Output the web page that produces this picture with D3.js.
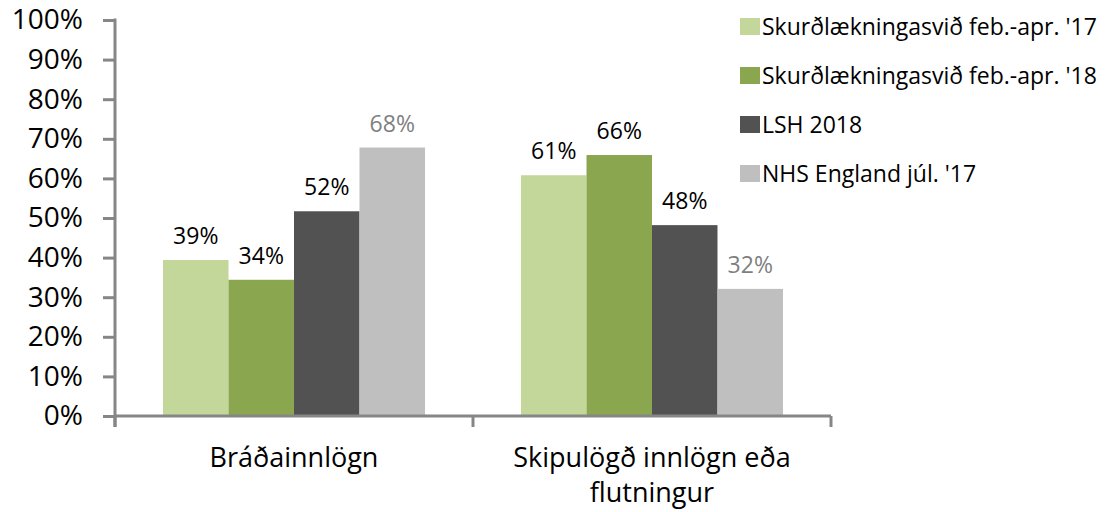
<!DOCTYPE html>
<html>
<head>
<meta charset="utf-8">
<script src="https://cdn.jsdelivr.net/npm/d3@7"></script>
<style>
  body { margin: 0; background: #fff; }
  text { font-family: "Open Sans", sans-serif; }
</style>
</head>
<body>
<div id="chart"></div>
<script>
// Data
var categories = ["Bráðainnlögn", "Skipulögð innlögn eða flutningur"];
var categoryLines = [["Bráðainnlögn"], ["Skipulögð innlögn eða", "flutningur"]];
var seriesNames = ["Skurðlækningasvið feb.-apr. '17", "Skurðlækningasvið feb.-apr. '18", "LSH 2018", "NHS England júl. '17"];
var skurd17 = [39.4, 60.8];
var skurd18 = [34.4, 65.9];
var lsh2018 = [51.7, 48.2];
var nhs17 = [67.8, 32.1];
var labels17 = ["39%", "61%"];
var labels18 = ["34%", "66%"];
var labelsLsh = ["52%", "48%"];
var labelsNhs = ["68%", "32%"];
var yTicks = [0, 10, 20, 30, 40, 50, 60, 70, 80, 90, 100];

var colors = ["#c4d79b", "#8aa64f", "#525252", "#bfbfbf"];
var labelColors = ["#000", "#000", "#000", "#7f7f7f"];

var seriesValues = [skurd17, skurd18, lsh2018, nhs17];
var seriesLabels = [labels17, labels18, labelsLsh, labelsNhs];

// Set width and height
var width = 1106,
    height = 512;

var svg = d3.select("#chart")
            .append("svg")
              .attr("width", width)
              .attr("height", height);

// Scales
var x0 = d3.scaleBand()
           .domain(categories)
           .range([115, 831])
           .paddingInner(0)
           .paddingOuter(0);

var x1 = d3.scaleBand()
           .domain(d3.range(seriesNames.length))
           .range([0, x0.bandwidth()])
           .paddingInner(0)
           .paddingOuter(0.733);

var y = d3.scaleLinear()
          .domain([0, 100])
          .range([416, 20]);

// Bars
var groups = svg.selectAll(".group")
                .data(categories)
                .enter()
                .append("g")
                  .attr("class", "group")
                  .attr("transform", function(d) { return "translate(" + x0(d) + ",0)"; });

groups.each(function(cat, ci) {
  var g = d3.select(this);
  var rows = seriesValues.map(function(vals, si) {
    return {s: si, v: vals[ci], label: seriesLabels[si][ci]};
  });

  g.selectAll("rect")
    .data(rows)
    .enter()
    .append("rect")
      .attr("x", function(d) { return x1(d.s); })
      .attr("y", function(d) { return y(d.v); })
      .attr("width", x1.bandwidth())
      .attr("height", function(d) { return y(0) - y(d.v); })
      .attr("fill", function(d) { return colors[d.s]; });

  g.selectAll(".dlabel")
    .data(rows)
    .enter()
    .append("text")
      .attr("class", "dlabel")
      .attr("x", function(d) { return x1(d.s) + x1.bandwidth() / 2; })
      .attr("y", function(d) { return y(d.v) - 16; })
      .attr("text-anchor", "middle")
      .attr("font-size", "23px")
      .attr("fill", function(d) { return labelColors[d.s]; })
      .text(function(d) { return d.label; });
});

// Y axis
var yAxis = svg.append("g")
               .attr("transform", "translate(115,0)")
               .call(d3.axisLeft(y)
                       .tickValues(yTicks)
                       .tickSize(12)
                       .tickSizeOuter(0)
                       .tickPadding(20)
                       .tickFormat(function(d) { return d + "%"; }));

yAxis.select(".domain").remove();
yAxis.selectAll("line")
     .attr("stroke", "#868686")
     .attr("stroke-width", 3);
yAxis.selectAll("text")
     .attr("font-size", "28px")
     .attr("font-family", "Open Sans, sans-serif")
     .attr("fill", "#000");

svg.append("line")
   .attr("x1", 115).attr("x2", 115)
   .attr("y1", y(100) - 1.5).attr("y2", y(0) + 11)
   .attr("stroke", "#868686")
   .attr("stroke-width", 3);

// X axis line and ticks at band edges
svg.append("line")
   .attr("x1", 115).attr("x2", 831)
   .attr("y1", y(0)).attr("y2", y(0))
   .attr("stroke", "#868686")
   .attr("stroke-width", 3);

var edges = [x0.range()[0]].concat(categories.map(function(c) { return x0(c) + x0.bandwidth(); }));
svg.selectAll(".xtick")
   .data(edges)
   .enter()
   .append("line")
     .attr("class", "xtick")
     .attr("x1", function(d) { return d; })
     .attr("x2", function(d) { return d; })
     .attr("y1", y(0))
     .attr("y2", y(0) + 11)
     .attr("stroke", "#868686")
     .attr("stroke-width", 3);

// Category labels
categories.forEach(function(c, i) {
  var t = svg.append("text")
             .attr("x", x0(c) + x0.bandwidth() / 2)
             .attr("y", 467)
             .attr("text-anchor", "middle")
             .attr("font-size", "27px")
             .attr("fill", "#000");
  categoryLines[i].forEach(function(line, j) {
    t.append("tspan")
     .attr("x", x0(c) + x0.bandwidth() / 2)
     .attr("dy", j === 0 ? 0 : 35)
     .text(line);
  });
});

// Legend
var legend = svg.selectAll(".legend")
                .data(seriesNames)
                .enter()
                .append("g")
                  .attr("class", "legend")
                  .attr("transform", function(d, i) { return "translate(740," + (35 + i * 49) + ")"; });

legend.append("rect")
      .attr("x", 0)
      .attr("y", -17)
      .attr("width", 20)
      .attr("height", 17)
      .attr("fill", function(d, i) { return colors[i]; });

legend.append("text")
      .attr("x", 22)
      .attr("y", 0)
      .attr("font-size", "23px")
      .attr("fill", "#000")
      .text(function(d) { return d; });
</script>
</body>
</html>
